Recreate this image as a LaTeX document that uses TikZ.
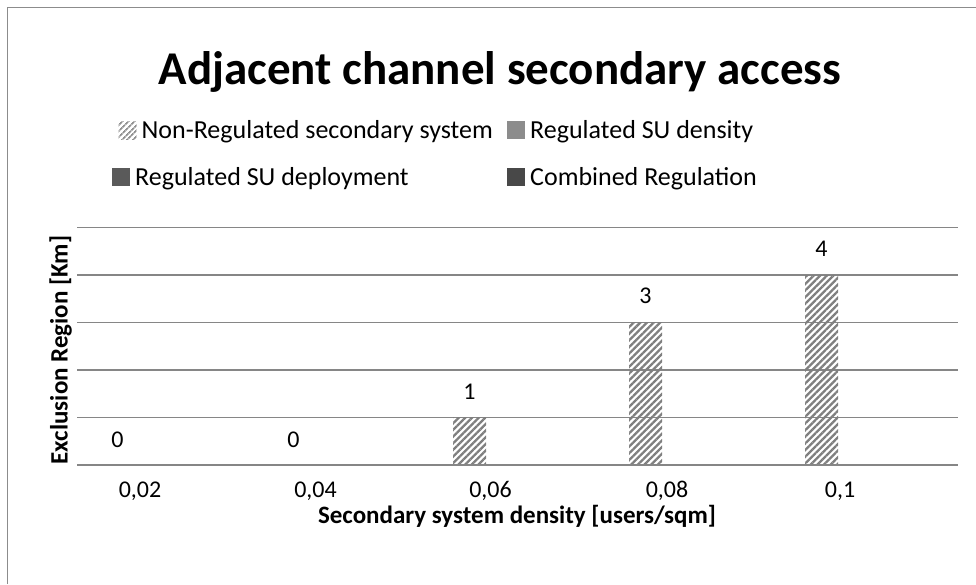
\documentclass[tikz,border=0pt]{standalone}
\usepackage{fontspec}
\setmainfont{Carlito}
\usetikzlibrary{patterns.meta}
\definecolor{gridgray}{HTML}{868686}
\definecolor{framegray}{HTML}{8C8C8C}
\definecolor{hatchgray}{HTML}{7F7F7F}
\definecolor{densgray}{HTML}{8C8C8C}
\definecolor{deplgray}{HTML}{5A5A5A}
\definecolor{combgray}{HTML}{484848}
\begin{document}
\begin{tikzpicture}[x=1pt,y=-1pt,
  leg/.style={font=\fontsize{26}{31}\selectfont, inner sep=0pt},
  lbl/.style={font=\fontsize{24}{29}\selectfont, inner sep=0pt},
  ttl/.style={font=\bfseries\fontsize{47}{56}\selectfont, inner sep=0pt},
  axt/.style={font=\bfseries\fontsize{25}{30}\selectfont, inner sep=0pt},
  gridline/.style={draw=gridgray, line width=1.5pt},
  hatch/.style={pattern={Lines[angle=45,distance=4.7pt,line width=2.3pt]}, pattern color=hatchgray},
  keyhatch/.style={pattern={Lines[angle=45,distance=4pt,line width=1.8pt]}, pattern color=hatchgray!85},
  key/.style={minimum width=18pt, minimum height=18pt, inner sep=0pt, draw=none},
]
\useasboundingbox (0,0) rectangle (976,584);
\fill[white] (0,0) rectangle (976,584);
\draw[framegray, line width=1.5pt] (7.5,584) -- (7.5,7.5) -- (976,7.5);

% title
\node[ttl, anchor=base] (title) at (500,84) {Adjacent channel secondary access};

% legend
\node[key, keyhatch] (k1) at (127.5,130) {};
\node[leg, anchor=base west] (l1) at (141.5,138.5) {Non-Regulated secondary system};
\node[key, fill=densgray] (k2) at (516,130) {};
\node[leg, anchor=base west] (l2) at (530,138.5) {Regulated SU density};
\node[key, fill=deplgray] (k3) at (121,177) {};
\node[leg, anchor=base west] (l3) at (135,185) {Regulated SU deployment};
\node[key, fill=combgray] (k4) at (516,177) {};
\node[leg, anchor=base west] (l4) at (530,185) {Combined Regulation};

% gridlines
\foreach \yy in {227.5,275,322.5,370,417.5}
  \draw[gridline] (77,\yy) -- (958,\yy);

% bars
\fill[hatch] (453,417.5) rectangle (486,465);
\fill[hatch] (629,322.5) rectangle (662,465);
\fill[hatch] (805,275) rectangle (838,465);

% axis line
\draw[gridline] (77,465) -- (958,465);

% data labels
\node[lbl, anchor=base] (d1) at (117.5,447.5) {0};
\node[lbl, anchor=base] (d2) at (293.5,447.5) {0};
\node[lbl, anchor=base] (d3) at (469.5,399.5) {1};
\node[lbl, anchor=base] (d4) at (645.5,303.5) {3};
\node[lbl, anchor=base] (d5) at (821.5,256.5) {4};

% category labels
\node[lbl, anchor=base] (c1) at (140,497.5) {0,02};
\node[lbl, anchor=base] (c2) at (315.5,497.5) {0,04};
\node[lbl, anchor=base] (c3) at (490.5,497.5) {0,06};
\node[lbl, anchor=base] (c4) at (667,497.5) {0,08};
\node[lbl, anchor=base] (c5) at (840,497.5) {0,1};

% axis titles
\node[axt, anchor=base] (xt) at (517,523) {Secondary system density [users/sqm]};
\node[axt, rotate=90, anchor=center] (yt) at (60.5,350) {Exclusion Region [Km]};
\end{tikzpicture}
\end{document}
